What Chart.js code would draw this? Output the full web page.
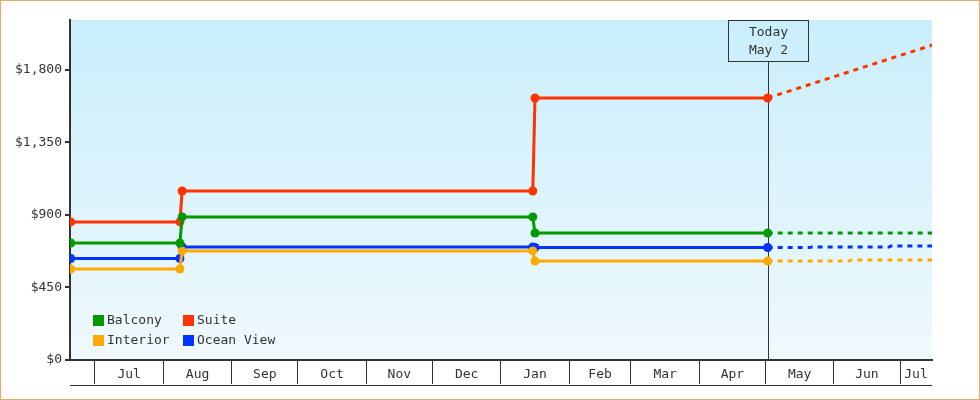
<!DOCTYPE html>
<html>
<head>
<meta charset="utf-8">
<script src="https://cdn.jsdelivr.net/npm/chart.js@4"></script>
<style>
  html, body { margin: 0; padding: 0; background: #fff; }
  canvas { display: block; }
</style>
</head>
<body>
<canvas id="chart" width="980" height="400"></canvas>
<script>
// price change dates shared by all cabin types
const changeDates = ['2022-06-20', '2022-08-08T12:00', '2022-08-09T12:00', '2023-01-15T12:00', '2023-01-16T12:00', '2023-05-02'];
const balcony   = [726, 726, 888, 888, 788, 788];
const suite     = [857, 857, 1049, 1049, 1626, 1626];
const interior  = [565, 565, 677, 677, 614, 614];
const oceanView = [630, 630, 701, 701, 698, 698];

// forecast after today (dotted)
const balconyForecastDates  = ['2023-05-02', '2023-07-16'];
const balconyForecast       = [788, 788];
const suiteForecastDates    = ['2023-05-02', '2023-07-16'];
const suiteForecast         = [1626, 1956];
const interiorForecastDates = ['2023-05-02', '2023-06-08', '2023-06-09', '2023-07-16'];
const interiorForecast      = [614, 614, 621, 621];
const oceanForecastDates    = ['2023-05-02', '2023-05-21', '2023-05-22', '2023-06-26', '2023-06-27', '2023-07-16'];
const oceanForecast         = [698, 698, 701, 701, 708, 708];

const monthStarts = ['2022-07-01', '2022-08-01', '2022-09-01', '2022-10-01', '2022-11-01', '2022-12-01',
                     '2023-01-01', '2023-02-01', '2023-03-01', '2023-04-01', '2023-05-01', '2023-06-01', '2023-07-01'];
const monthLabels = ['Jul', 'Aug', 'Sep', 'Oct', 'Nov', 'Dec', 'Jan', 'Feb', 'Mar', 'Apr', 'May', 'Jun', 'Jul'];
const yTicks = [0, 450, 900, 1350, 1800];
const axisStart = '2022-06-19T16:00';
const axisEnd = '2023-07-15T12:00';
const today = '2023-05-02';
const todayLabel = ['Today', 'May 2'];

const DAY = 86400000;
const toDay = s => Date.parse(s.includes('T') ? s + 'Z' : s) / DAY;

const INK = '#333';
const colors = { balcony: '#009900', suite: '#ff3300', interior: '#ffaa00', ocean: '#0033ff' };

function series(label, color, dates, values, forecast) {
  return {
    label,
    forecast,
    data: dates.map((d, i) => ({ x: toDay(d), y: values[i] })),
    borderColor: color,
    backgroundColor: color,
    borderWidth: 3,
    borderDash: forecast ? [5, 5] : [],
    pointRadius: forecast ? 0 : 4.5,
    pointHoverRadius: forecast ? 0 : 4.5,
    pointBorderWidth: 0,
    tension: 0,
    fill: false,
    clip: 0
  };
}

Chart.defaults.font.family = "'DejaVu Sans Mono', monospace";
Chart.defaults.font.size = 13;
Chart.defaults.color = INK;

const decor = {
  id: 'decor',
  beforeDraw(chart) {
    const { ctx, chartArea: a } = chart;
    ctx.save();
    ctx.fillStyle = '#fff';
    ctx.fillRect(0, 0, chart.width, chart.height);
    const g = ctx.createLinearGradient(0, a.top, 0, a.bottom);
    g.addColorStop(0, '#c9eefb');
    g.addColorStop(1, '#f0f9fe');
    ctx.fillStyle = g;
    ctx.fillRect(a.left, a.top, a.right - a.left, a.bottom - a.top);
    ctx.restore();
  },
  beforeDatasetsDraw(chart) {
    const { ctx, chartArea: a, scales } = chart;
    const x = Math.round(scales.x.getPixelForValue(toDay(today))) + 0.5;
    ctx.save();
    ctx.strokeStyle = INK;
    ctx.lineWidth = 1;
    ctx.strokeRect(x - 40, a.top + 0.5, 80, 41);
    ctx.beginPath();
    ctx.moveTo(x, a.top + 41.5);
    ctx.lineTo(x, a.bottom);
    ctx.stroke();
    ctx.fillStyle = INK;
    ctx.font = "13px 'DejaVu Sans Mono'";
    ctx.textAlign = 'center';
    ctx.textBaseline = 'middle';
    ctx.fillText(todayLabel[0], x, a.top + 12.5);
    ctx.fillText(todayLabel[1], x, a.top + 30.5);
    ctx.restore();
  },
  afterDraw(chart) {
    const { ctx, chartArea: a } = chart;
    ctx.save();
    // bottom line of month boxes
    ctx.strokeStyle = INK;
    ctx.lineWidth = 1;
    ctx.beginPath();
    ctx.moveTo(a.left, a.bottom + 25.5);
    ctx.lineTo(a.right, a.bottom + 25.5);
    ctx.stroke();
    // legend inside plot
    const items = chart.data.datasets.filter(d => !d.forecast);
    ctx.font = "13px 'DejaVu Sans Mono'";
    ctx.textBaseline = 'middle';
    ctx.textAlign = 'left';
    items.forEach((d, i) => {
      const col = i % 2, row = Math.floor(i / 2);
      const sx = a.left + 23 + col * 90;
      const cy = a.bottom - 40 + row * 20;
      ctx.fillStyle = d.borderColor;
      ctx.fillRect(sx, cy - 5, 11, 11);
      ctx.fillStyle = INK;
      ctx.fillText(d.label, sx + 14, cy + 1);
    });
    // outer border
    ctx.strokeStyle = '#eaa860';
    ctx.lineWidth = 1;
    ctx.strokeRect(0.5, 0.5, chart.width - 1, chart.height - 1);
    ctx.restore();
  }
};

new Chart(document.getElementById('chart'), {
  type: 'line',
  data: {
    datasets: [
      series('Balcony', colors.balcony, changeDates, balcony, false),
      series('Suite', colors.suite, changeDates, suite, false),
      series('Interior', colors.interior, changeDates, interior, false),
      series('Ocean View', colors.ocean, changeDates, oceanView, false),
      series('Balcony forecast', colors.balcony, balconyForecastDates, balconyForecast, true),
      series('Suite forecast', colors.suite, suiteForecastDates, suiteForecast, true),
      series('Interior forecast', colors.interior, interiorForecastDates, interiorForecast, true),
      series('Ocean View forecast', colors.ocean, oceanForecastDates, oceanForecast, true)
    ]
  },
  options: {
    responsive: false,
    animation: false,
    events: [],
    layout: { padding: { left: 0, right: 48, top: 20, bottom: 15 } },
    plugins: { legend: { display: false }, tooltip: { enabled: false } },
    scales: {
      x: {
        type: 'linear',
        min: toDay(axisStart),
        max: toDay(axisEnd),
        afterBuildTicks: scale => {
          const end = toDay(axisEnd);
          const ticks = [];
          monthStarts.forEach((m, i) => {
            const start = toDay(m);
            const next = i + 1 < monthStarts.length ? toDay(monthStarts[i + 1]) : end;
            ticks.push({ value: start });
            ticks.push({ value: (start + Math.min(next, end)) / 2, name: monthLabels[i] });
          });
          scale.ticks = ticks.sort((p, q) => p.value - q.value);
        },
        afterFit: scale => { scale.height = 25; },
        ticks: {
          autoSkip: false,
          maxRotation: 0,
          padding: -17,
          callback: (v, i, ticks) => ticks[i].name || ''
        },
        grid: {
          drawOnChartArea: false,
          tickLength: 24,
          lineWidth: 1,
          color: c => (c.tick && c.tick.name) ? 'rgba(0,0,0,0)' : INK
        },
        border: { color: INK, width: 2 }
      },
      y: {
        min: 0,
        max: 2110,
        afterBuildTicks: scale => { scale.ticks = yTicks.map(v => ({ value: v })); },
        afterFit: scale => { scale.width = 70; },
        ticks: {
          padding: 3,
          callback: v => '$' + v.toLocaleString('en-US')
        },
        grid: { drawOnChartArea: false, tickLength: 5, lineWidth: 2, color: INK },
        border: { color: INK, width: 2 }
      }
    }
  },
  plugins: [decor]
});
</script>
</body>
</html>
